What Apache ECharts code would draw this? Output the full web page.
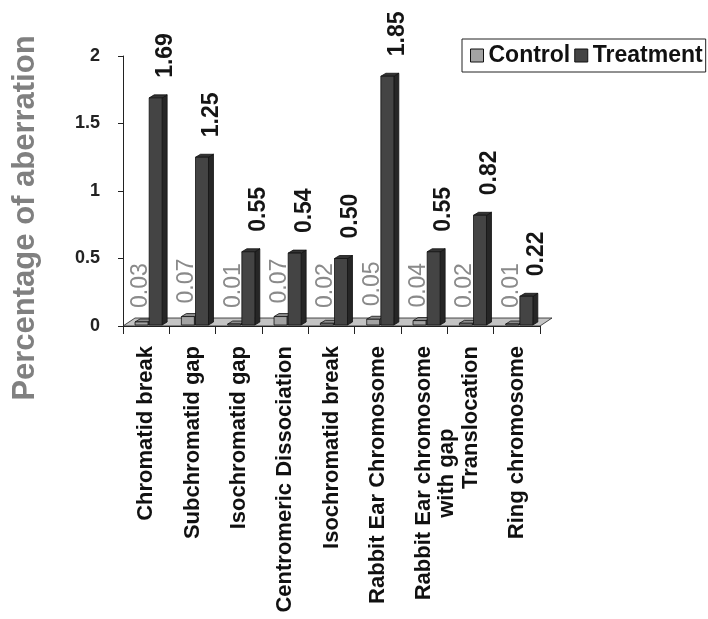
<!DOCTYPE html>
<html>
<head>
<meta charset="utf-8">
<script src="https://cdn.jsdelivr.net/npm/echarts@6/dist/echarts.min.js"></script>
<style>
  html, body { margin: 0; padding: 0; background: #ffffff; }
  #chart { width: 708px; height: 619px; }
</style>
</head>
<body>
<div id="chart"></div>
<script>
// Aberration types along the category axis
const categories = [
  'Chromatid break',
  'Subchromatid gap',
  'Isochromatid gap',
  'Centromeric Dissociation',
  'Isochromatid break',
  'Rabbit Ear Chromosome',
  'Rabbit Ear chromosome\nwith gap',
  'Translocation',
  'Ring chromosome'
];

// Percentage of aberration per group
const controlValues   = [0.03, 0.07, 0.01, 0.07, 0.02, 0.05, 0.04, 0.02, 0.01];
const treatmentValues = [1.69, 1.25, 0.55, 0.54, 0.50, 1.85, 0.55, 0.82, 0.22];

// Value axis ticks
const yTicks = [0, 0.5, 1, 1.5, 2];

const FONT = "'Liberation Sans', Arial, Helvetica, sans-serif";

// Face colours for the pseudo-3D columns
const palettes = {
  Control:   { front: '#a3a3a3', side: '#777777', top: '#8c8c8c', label: '#8a8a8a', weight: 'normal' },
  Treatment: { front: '#444444', side: '#262626', top: '#333333', label: '#151515', weight: 'bold' }
};

const DEPTH_X = 5, DEPTH_Y = -3;

function columnRenderer(name, offsetRatio, labelDx, labelGap) {
  const pal = palettes[name];
  return function (params, api) {
    const i = api.value(0);
    const v = api.value(1);
    const base = api.coord([i, 0]);
    const top = api.coord([i, v]);
    const band = api.size([1, 0])[0];
    const w = band * 0.28;
    const x0 = base[0] + offsetRatio * band;
    const yb = base[1] - 1;
    const yt = Math.min(top[1], yb - 1);
    const line = { stroke: '#111111', lineWidth: 0.8 };
    return {
      type: 'group',
      children: [
        {
          type: 'polygon',
          shape: { points: [[x0 + w, yt], [x0 + w + DEPTH_X, yt + DEPTH_Y], [x0 + w + DEPTH_X, yb + DEPTH_Y], [x0 + w, yb]] },
          style: Object.assign({ fill: pal.side }, line)
        },
        {
          type: 'polygon',
          shape: { points: [[x0, yt], [x0 + DEPTH_X, yt + DEPTH_Y], [x0 + w + DEPTH_X, yt + DEPTH_Y], [x0 + w, yt]] },
          style: Object.assign({ fill: pal.top }, line)
        },
        {
          type: 'rect',
          shape: { x: x0, y: yt, width: w, height: yb - yt },
          style: Object.assign({ fill: pal.front }, line)
        },
        {
          type: 'text',
          x: x0 + w / 2 + labelDx,
          y: Math.min(yt - labelGap, 308),
          rotation: Math.PI / 2,
          style: {
            text: v.toFixed(2),
            fill: pal.label,
            fontFamily: FONT,
            fontSize: 23,
            fontWeight: pal.weight,
            align: 'left',
            verticalAlign: 'middle'
          }
        }
      ]
    };
  };
}

// Grey floor under the columns
function floorRenderer(params, api) {
  if (params.dataIndex !== 0) return null;
  const cs = params.coordSys;
  const yb = cs.y + cs.height;
  return {
    type: 'polygon',
    shape: { points: [[cs.x, yb], [cs.x + cs.width, yb], [cs.x + cs.width + 12, yb - 8], [cs.x + 12, yb - 8]] },
    style: { fill: '#c4c4c4', stroke: '#222222', lineWidth: 0.8 }
  };
}

const chart = echarts.init(document.getElementById('chart'), null, { renderer: 'canvas' });

chart.setOption({
  backgroundColor: '#ffffff',
  animation: false,
  textStyle: { fontFamily: FONT },
  grid: { left: 123, right: 168, top: 56, bottom: 293, containLabel: false },
  legend: {
    left: 462,
    top: 39,
    padding: [5, 3, 5, 8],
    borderColor: '#222222',
    borderWidth: 1,
    itemGap: 4,
    itemWidth: 13,
    itemHeight: 13,
    icon: 'rect',
    selectedMode: false,
    textStyle: { fontFamily: FONT, fontSize: 23, fontWeight: 'bold', color: '#111111' },
    data: [
      { name: 'Control', itemStyle: { color: palettes.Control.front, borderColor: '#111111', borderWidth: 1 } },
      { name: 'Treatment', itemStyle: { color: palettes.Treatment.front, borderColor: '#111111', borderWidth: 1 } }
    ]
  },
  graphic: [
    {
      type: 'text',
      x: 25,
      y: 218,
      rotation: Math.PI / 2,
      style: {
        text: 'Percentage of aberration',
        fill: '#808080',
        fontFamily: FONT,
        fontSize: 31,
        fontWeight: 'bold',
        align: 'center',
        verticalAlign: 'middle'
      }
    }
  ],
  xAxis: {
    type: 'category',
    data: categories,
    boundaryGap: true,
    axisLine: { show: true, lineStyle: { color: '#222222', width: 1 } },
    axisTick: { show: true, interval: 0, length: 8, alignWithLabel: false, lineStyle: { color: '#222222' } },
    axisLabel: {
      interval: 0,
      rotate: 90,
      margin: 20,
      color: '#111111',
      fontFamily: FONT,
      fontSize: 22,
      fontWeight: 'bold',
      formatter: function (value) {
        const parts = value.split('\n');
        if (parts.length === 1) return '{a|' + value + '}';
        return '{a| }\n{a|' + parts[0] + '}\n{b|' + parts[1] + '}';
      },
      rich: {
        a: { fontFamily: FONT, fontSize: 22, fontWeight: 'bold', color: '#111111', lineHeight: 23 },
        b: { fontFamily: FONT, fontSize: 22, fontWeight: 'bold', color: '#111111', lineHeight: 23, align: 'center' }
      }
    },
    splitLine: { show: false }
  },
  yAxis: {
    type: 'value',
    min: yTicks[0],
    max: yTicks[yTicks.length - 1],
    interval: yTicks[1] - yTicks[0],
    axisLine: { show: true, lineStyle: { color: '#222222', width: 1 } },
    axisTick: { show: true, length: 5, lineStyle: { color: '#222222' } },
    axisLabel: {
      margin: 23,
      color: '#222222',
      fontFamily: FONT,
      fontSize: 18,
      fontWeight: 'bold'
    },
    splitLine: { show: false }
  },
  series: [
    {
      name: 'floor',
      type: 'custom',
      silent: true,
      z: 1,
      renderItem: floorRenderer,
      data: [[0, 0]]
    },
    {
      name: 'Control',
      type: 'custom',
      z: 2,
      itemStyle: { color: palettes.Control.front },
      renderItem: columnRenderer('Control', -0.24, -1, 13),
      data: controlValues.map(function (v, i) { return [i, v]; })
    },
    {
      name: 'Treatment',
      type: 'custom',
      z: 3,
      itemStyle: { color: palettes.Treatment.front },
      renderItem: columnRenderer('Treatment', 0.065, 10, 20),
      data: treatmentValues.map(function (v, i) { return [i, v]; })
    }
  ]
});
</script>
</body>
</html>
